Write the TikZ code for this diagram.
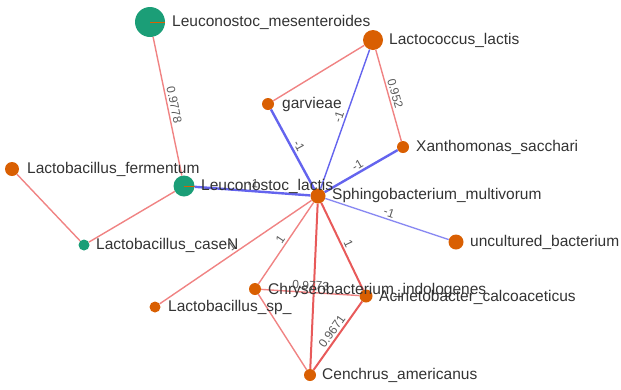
\documentclass[tikz,border=0pt]{standalone}
\usepackage{fontspec}
\setmainfont{Liberation Sans}
\usepackage{xcolor}
\usetikzlibrary{positioning}

\definecolor{taxorange}{HTML}{D95F02}
\definecolor{taxgreen}{HTML}{1B9E77}
\definecolor{posweak}{HTML}{F08383}
\definecolor{posstrong}{HTML}{E85A5A}
\definecolor{negedge}{HTML}{6464EE}
\definecolor{negweak}{HTML}{8A8AF2}
\definecolor{wgray}{HTML}{5A5A5A}

\begin{document}
\begin{tikzpicture}[x=1pt, y=-1pt,
  taxon/.style={circle, fill=#1, inner sep=0pt},
  taxlbl/.style={anchor=west, inner sep=0pt, text=black!80, font=\fontsize{15.5}{18}\selectfont},
  wlbl/.style={text=wgray, inner sep=2pt, font=\fontsize{12}{14}\selectfont},
  poslink/.style={posweak, line width=1.4pt},
  poslinkbold/.style={posstrong, line width=2pt},
  neglink/.style={negedge, line width=2.4pt},
  neglinkthin/.style={negedge, line width=1.4pt}]
\useasboundingbox (0,0) rectangle (621,389);

% taxa
\node[taxon=taxgreen, minimum size=30pt] at (150,22) (mes) {};
\node[taxon=taxorange, minimum size=20pt] at (373,40) (lcl) {};
\node[taxon=taxorange, minimum size=12pt] at (268,104) (gar) {};
\node[taxon=taxorange, minimum size=12pt] at (403,147) (xan) {};
\node[taxon=taxorange, minimum size=14pt] at (12,169) (fer) {};
\node[taxon=taxgreen, minimum size=21pt] at (184,186) (lel) {};
\node[taxon=taxorange, minimum size=15pt] at (318,196) (sph) {};
\node[taxon=taxgreen, minimum size=11pt] at (84,245) (cas) {};
\node[taxon=taxorange, minimum size=15pt] at (456,242) (unc) {};
\node[taxon=taxorange, minimum size=12pt] at (255,289) (chr) {};
\node[taxon=taxorange, minimum size=13pt] at (366,296) (aci) {};
\node[taxon=taxorange, minimum size=11pt] at (155,307) (lsp) {};
\node[taxon=taxorange, minimum size=12pt] at (310,375) (cen) {};

% pie slivers
\foreach \n in {mes,lel}
  \draw[taxorange, line width=0.8pt] (\n.center) -- (\n.east);

% positive links
\draw[poslink] (mes) -- node[wlbl, midway, sloped, above] {0.9778} (lel);
\draw[poslink] (lcl) -- (gar);
\draw[poslink] (lcl) -- node[wlbl, midway, sloped, above] {0.952} (xan);
\draw[poslink] (fer) -- (cas);
\draw[poslink] (cas) -- (lel);
\draw[poslink] (lsp) -- node[wlbl, midway, sloped, above] {1} (sph);
\draw[poslink] (chr) -- node[wlbl, midway, sloped, above] {1} (sph);
\draw[poslinkbold] (sph) -- node[wlbl, midway, sloped, above] {1} (aci);
\draw[poslinkbold] (sph) -- (cen);
\draw[poslink] (chr) -- node[wlbl, midway, sloped, above] {0.9773} (aci);
\draw[poslink] (chr) -- (cen);
\draw[poslinkbold] (cen) -- node[wlbl, midway, sloped, above] {0.9671} (aci);

% negative links
\draw[neglink] (lel) -- node[wlbl, midway, sloped, above] {-1} (sph);
\draw[neglink] (gar) -- node[wlbl, midway, sloped, above] {-1} (sph);
\draw[neglinkthin] (lcl) -- node[wlbl, midway, sloped, above] {-1} (sph);
\draw[neglink] (sph) -- node[wlbl, midway, sloped, above] {-1} (xan);
\draw[negweak, line width=1.4pt] (sph) -- node[wlbl, midway, sloped, above] {-1} (unc);

% names
\node[taxlbl] at (172,22) (mes-t) {Leuconostoc\_mesenteroides};
\node[taxlbl] at (389,40) (lcl-t) {Lactococcus\_lactis};
\node[taxlbl] at (282,104) (gar-t) {garvieae};
\node[taxlbl] at (416,147) (xan-t) {Xanthomonas\_sacchari};
\node[taxlbl] at (27,169) (fer-t) {Lactobacillus\_fermentum};
\node[taxlbl] at (201,186) (lel-t) {Leuconostoc\_lactis};
\node[taxlbl] at (332,195) (sph-t) {Sphingobacterium\_multivorum};
\node[taxlbl] at (96,245) (cas-t) {Lactobacillus\_caseN};
\node[taxlbl] at (470,242) (unc-t) {uncultured\_bacterium};
\node[taxlbl] at (268,290) (chr-t) {Chryseobacterium\_indologenes};
\node[taxlbl] at (379,297) (aci-t) {Acinetobacter\_calcoaceticus};
\node[taxlbl] at (168,307) (lsp-t) {Lactobacillus\_sp\_};
\node[taxlbl] at (322,375) (cen-t) {Cenchrus\_americanus};

\end{tikzpicture}
\end{document}
